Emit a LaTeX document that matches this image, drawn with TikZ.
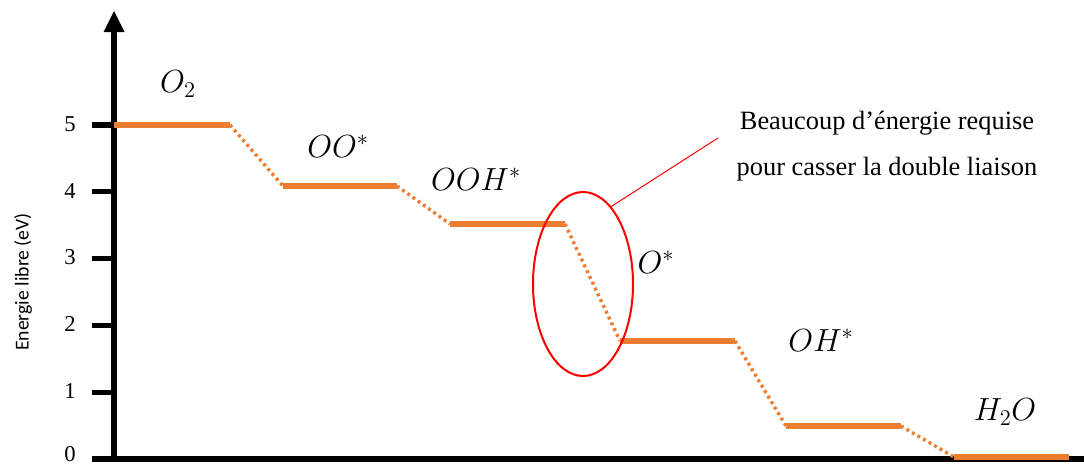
\RequirePackage{fix-cm}
\documentclass[tikz,border=0pt]{standalone}
\usepackage{fontspec}
\setmainfont{Liberation Serif}
\newfontfamily\calib{Carlito}
\usetikzlibrary{calc,shapes.geometric}
\definecolor{lvl}{HTML}{ED7D31}
\tikzset{
  axis/.style={line width=3.8pt, black},
  tickmark/.style={line width=3.8pt, black},
  level/.style={line width=3.8pt, lvl},
  trans/.style={line width=2.6pt, lvl, dash pattern=on 2.2pt off 2.6pt},
  lab/.style={font=\fontsize{24}{28}\selectfont, inner sep=0pt},
  ticklab/.style={font=\fontsize{17}{20}\selectfont, inner sep=0pt},
  note/.style={font=\fontsize{19.8}{34}\selectfont, align=center, inner sep=0pt},
  redmark/.style={red, line width=1.5pt},
}
\begin{document}
\begin{tikzpicture}[x=0.75pt, y=-0.75pt]
\useasboundingbox (0,0) rectangle (1084,464);
% axes
\coordinate (origin) at (114,459);
\coordinate (ytop) at (114,30);
\coordinate (xend) at (1084,459);
\coordinate (xstart) at (92,459);
\draw[axis] (xstart) -- (xend);
\draw[axis] (origin) -- (ytop);
\fill (103.5,32) -- (114,11) -- (124.5,32) -- cycle;
% ticks and tick labels
\foreach \v in {1,...,5}{
  \coordinate (t\v) at (114,{459-66.8*\v});
  \draw[tickmark] (t\v) -- ++(-22,0);
  \node[ticklab] (tl\v) at (70,{458-66.8*\v}) {\v};
}
\coordinate (t0) at (114,459);
\draw[tickmark] (t0) -- ++(-22,0);
\node[ticklab] (tl0) at (70,454) {0};
\node[rotate=90, font=\calib\fontsize{14.8}{17}\selectfont, inner sep=0pt] (ylab) at (23,282) {Energie libre (eV)};
% levels
\coordinate (a1) at (114,125); \coordinate (b1) at (230,125);
\coordinate (a2) at (283,186); \coordinate (b2) at (397,186);
\coordinate (a3) at (450,224); \coordinate (b3) at (565,224);
\coordinate (a4) at (620,341); \coordinate (b4) at (735,341);
\coordinate (a5) at (786,426); \coordinate (b5) at (901,426);
\coordinate (a6) at (954,457); \coordinate (b6) at (1069,457);
\foreach \i in {1,...,6}{ \draw[level] (a\i) -- (b\i); }
\draw[trans] (b1) -- (a2);
\draw[trans] (b2) -- (a3);
\draw[trans] (b3) -- (a4);
\draw[trans] (b4) -- (a5);
\draw[trans] (b5) -- (a6);
% labels
\node[lab] (n1) at (178,84) {$O_2$};
\node[lab] (n2) at (338,146) {$OO^*$};
\node[lab] (n3) at (476,179) {$OOH^*$};
\node[lab] (n4) at (656,262) {$O^*$};
\node[lab] (n5) at (821,340) {$OH^*$};
\node[lab] (n6) at (1005,412) {$H_2O$};
% annotation
\node[redmark, draw, ellipse, minimum width=75pt, minimum height=138pt, inner sep=0pt] (ell) at (583,284) {};
\coordinate (lead) at (718,138);
\draw[red, line width=0.75pt] (ell.70) -- (lead);
\node[note] (txt) at (887,146) {Beaucoup d’énergie requise\\pour casser la double liaison};
\end{tikzpicture}
\end{document}
